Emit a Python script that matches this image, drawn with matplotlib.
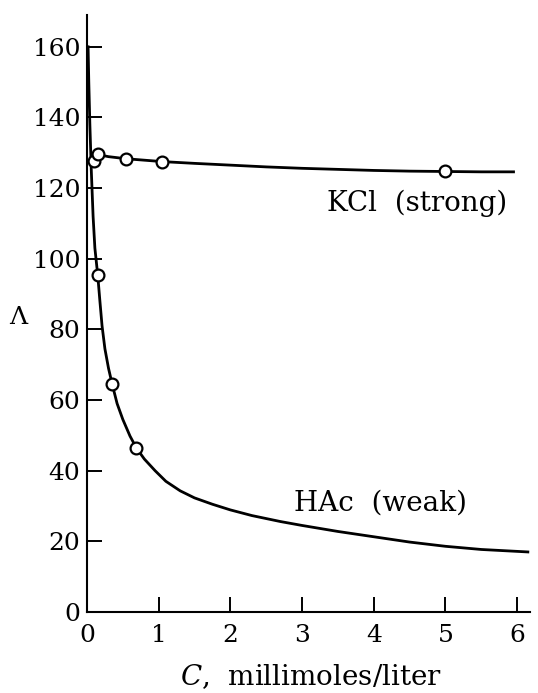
import matplotlib
matplotlib.use("Agg")
import matplotlib.pyplot as plt

plt.rcParams["font.family"] = ["DejaVu Serif"]
plt.rcParams["mathtext.fontset"] = "dejavuserif"

# HAc (weak) curve
hac_c = [0.015, 0.025, 0.04, 0.06, 0.085, 0.11, 0.15, 0.18, 0.21, 0.25, 0.3,
         0.35, 0.42, 0.5, 0.6, 0.69, 0.8, 0.95, 1.1, 1.3, 1.5, 1.75, 2.0,
         2.3, 2.7, 3.0, 3.5, 4.0, 4.5, 5.0, 5.5, 6.15]
hac_l = [160, 150, 138, 125, 112, 103, 95.3, 88, 81, 74.5, 69,
         64.6, 59, 54.5, 49.8, 46.4, 43.3, 40, 37, 34.3, 32.3, 30.5, 28.9,
         27.3, 25.6, 24.5, 22.8, 21.3, 19.8, 18.6, 17.7, 17.0]
hac_pts_c = [0.15, 0.35, 0.69]
hac_pts_l = [95.3, 64.6, 46.4]

# KCl (strong) curve
kcl_c = [0.15, 0.3, 0.55, 0.8, 1.05, 1.5, 2.0, 2.5, 3.0, 3.5, 4.0, 4.5, 5.0, 5.5, 5.95]
kcl_l = [129.5, 128.9, 128.3, 127.9, 127.5, 127.0, 126.5, 126.0, 125.6, 125.3,
         125.0, 124.8, 124.7, 124.6, 124.6]
kcl_pts_c = [0.1, 0.15, 0.55, 1.05, 5.0]
kcl_pts_l = [127.7, 129.6, 128.3, 127.5, 124.7]

xticks = [0, 1, 2, 3, 4, 5, 6]
yticks = [0, 20, 40, 60, 80, 100, 120, 140, 160]

fig = plt.figure(figsize=(5.38, 6.93), dpi=100)
ax = fig.add_axes([87 / 538, 81 / 693, 443 / 538, 597 / 693])

ax.plot(hac_c, hac_l, color="black", lw=2.0, zorder=2, solid_joinstyle="round")
ax.plot(kcl_c, kcl_l, color="black", lw=2.0, zorder=2, solid_joinstyle="round")
ax.plot(hac_pts_c, hac_pts_l, "o", ms=8.5, mfc="white", mec="black", mew=1.6, zorder=3)
ax.plot(kcl_pts_c, kcl_pts_l, "o", ms=8.5, mfc="white", mec="black", mew=1.6, zorder=3)

ax.set_xlim(0, 6.18)
ax.set_ylim(0, 169)
ax.set_xticks(xticks)
ax.set_yticks(yticks)
ax.spines["top"].set_visible(False)
ax.spines["right"].set_visible(False)
for s in ["left", "bottom"]:
    ax.spines[s].set_linewidth(1.5)
ax.tick_params(direction="in", length=11, width=1.4, labelsize=18)
ax.tick_params(axis="x", pad=9)
ax.tick_params(axis="y", pad=5)

ax.text(4.6, 115.8, "KCl  (strong)", fontsize=20, ha="center", va="center")
ax.text(4.1, 30.9, "HAc  (weak)", fontsize=20, ha="center", va="center")

fig.text(18 / 538, 1 - 318 / 693, "Λ", fontsize=18, ha="center", va="center")
fig.text(311 / 538, 1 - 677 / 693, r"$C$,  millimoles/liter", fontsize=20,
         ha="center", va="center")

fig.savefig("out.png", dpi=100)
